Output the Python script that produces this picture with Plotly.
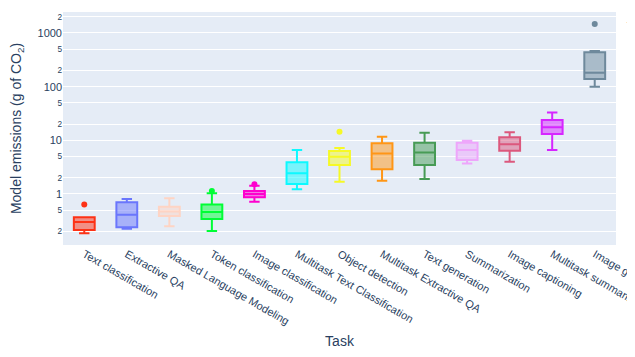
import math
import plotly.graph_objects as go

tasks = ["Text classification", "Extractive QA", "Masked Language Modeling",
         "Token classification", "Image classification",
         "Multitask Text Classification", "Object detection",
         "Multitask Extractive QA", "Text generation", "Summarization",
         "Image captioning", "Multitask summarization", "Image generation"]

lower_fence = [0.185, 0.226, 0.25, 0.205, 0.72, 1.22, 1.69, 1.77, 1.9, 3.7, 4.0, 6.6, 99.5]
q1 = [0.214, 0.24, 0.39, 0.34, 0.87, 1.53, 3.47, 2.9, 3.47, 4.3, 6.4, 13.1, 139]
median = [0.30, 0.41, 0.47, 0.46, 1.0, 2.43, 4.95, 5.7, 5.9, 6.6, 8.4, 17.5, 181]
q3 = [0.368, 0.70, 0.58, 0.64, 1.14, 3.9, 6.3, 8.8, 9.0, 9.0, 11.4, 23.9, 436]
upper_fence = [0.37, 0.81, 0.83, 1.03, 1.43, 6.6, 7.2, 11.7, 13.9, 9.8, 14.1, 33, 460]

outlier_task = ["Text classification", "Token classification", "Image classification",
                "Object detection", "Image generation"]
outlier_value = [0.64, 1.14, 1.52, 14.5, 1465]

colors = ["#FD3216", "#6A76FC", "#FED4C4", "#00FE35", "#FE00CE", "#0DF9FF",
          "#F6F926", "#FF9616", "#479B55", "#EEA6FB", "#DC587D", "#D626FF", "#6E899C"]

fig = go.Figure()
for i, t in enumerate(tasks):
    fig.add_trace(go.Box(
        x=[t], q1=[q1[i]], median=[median[i]], q3=[q3[i]],
        lowerfence=[lower_fence[i]], upperfence=[upper_fence[i]],
        name=t, legendgroup=t, marker_color=colors[i], line_color=colors[i],
        offsetgroup=t, alignmentgroup="a",
    ))
    ox = [t for t2, v in zip(outlier_task, outlier_value) if t2 == t]
    oy = [v for t2, v in zip(outlier_task, outlier_value) if t2 == t]
    if ox:
        fig.add_trace(go.Scatter(x=ox, y=oy, mode="markers", legendgroup=t,
                                 showlegend=False, marker=dict(color=colors[i], size=6),
                                 hoverinfo="skip"))

fig.update_layout(
    template="plotly",
    width=627, height=349,
    font=dict(family="Arial, Liberation Sans, sans-serif", size=12),
    margin=dict(l=55, r=19, t=4, b=112, autoexpand=False),
    boxmode="overlay",
    legend=dict(title=dict(text="task"), x=1.016, y=1, xanchor="left", yanchor="top"),
    xaxis=dict(title=dict(text="Task", font=dict(size=14), standoff=10),
               categoryorder="array", categoryarray=tasks, tickangle=30,
               tickfont=dict(size=11), range=[-0.5, len(tasks) - 0.5]),
    yaxis=dict(title=dict(text="Model emissions (g of CO<sub>2</sub>)", font=dict(size=14)),
               type="log", dtick="D2", tickfont=dict(size=11),
               range=[math.log10(0.112), math.log10(2460)]),
)

fig.write_html("out.html")
